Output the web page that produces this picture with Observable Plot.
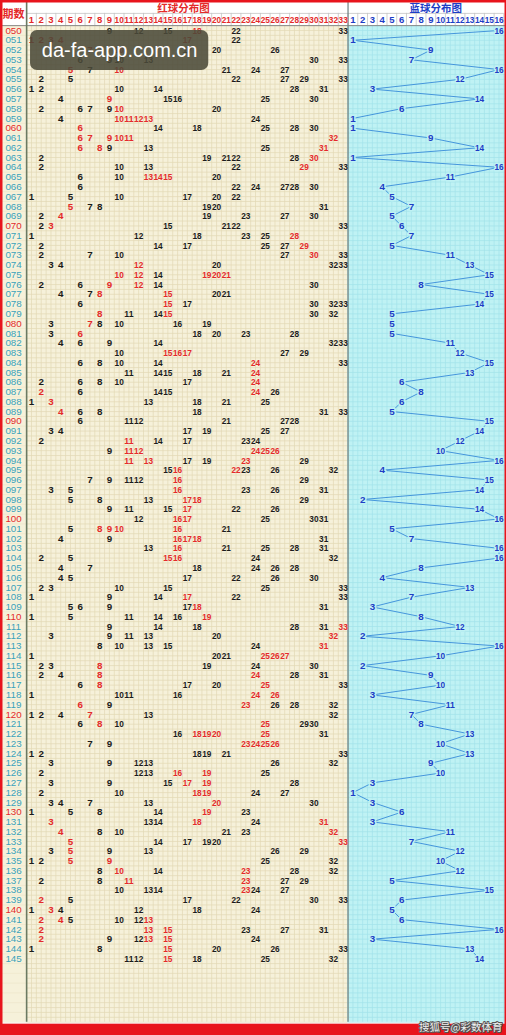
<!DOCTYPE html>
<html><head><meta charset="utf-8">
<script src="https://cdn.jsdelivr.net/npm/d3@7"></script>
<script src="https://cdn.jsdelivr.net/npm/@observablehq/plot@0.6"></script>
<style>
body{margin:0;background:#fff;overflow:hidden;}
svg text{paint-order:stroke;}
</style></head><body><div id="chart"></div>
<script>
// ---------- data ----------
const periods = ["050","051","052","053","054","055","056","057","058","059",
"060","061","062","063","064","065","066","067","068","069",
"070","071","072","073","074","075","076","077","078","079",
"080","081","082","083","084","085","086","087","088","089",
"090","091","092","093","094","095","096","097","098","099",
"100","101","102","103","104","105","106","107","108","109",
"110","111","112","113","114","115","116","117","118","119",
"120","121","122","123","124","125","126","127","128","129",
"130","131","132","133","134","135","136","137","138","139",
"140","141","142","143","144","145"];

const redNumbers = [1,2,3,4,5,6,7,8,9,10,11,12,13,14,15,16,17,18,19,20,21,22,23,24,25,26,27,28,29,30,31,32,33];
const blueNumbers = [1,2,3,4,5,6,7,8,9,10,11,12,13,14,15,16];

const redBalls = [
[9,12,15,18,22,33],[1,2,3,4,17,22],[4,7,10,17,20,26],[6,9,10,13,30,33],[5,7,10,21,24,27],
[2,5,22,27,29,33],[1,2,10,14,28,31],[4,9,15,16,25,30],[2,6,7,9,10,20],[4,10,11,12,13,24],
[6,14,18,25,28,30],[6,7,9,10,11,32],[6,8,9,13,25,31],[2,19,21,22,28,30],[2,10,13,22,29,33],
[6,10,13,14,15,20],[6,22,24,27,28,30],[1,5,10,17,20,22],[5,7,8,19,20,31],[2,4,19,23,27,30],
[2,3,15,21,22,33],[1,12,18,23,25,28],[2,14,17,25,27,29],[2,7,10,27,30,33],[3,4,12,20,32,33],
[10,12,14,19,20,21],[2,6,9,12,14,30],[4,7,8,15,20,21],[6,15,17,30,32,33],[8,11,14,15,30,32],
[3,7,8,10,16,19],[3,6,18,20,23,28],[4,6,9,14,32,33],[10,15,16,17,27,29],[6,8,10,14,24,33],
[11,14,15,18,21,24],[2,6,8,10,17,24],[2,6,14,15,24,26],[1,3,13,18,21,25],[4,6,8,18,31,33],
[6,11,12,21,27,28],[3,4,17,19,25,27],[2,11,14,17,23,24],[9,11,12,24,25,26],[11,13,17,19,23,29],
[15,16,22,23,26,32],[7,9,11,12,16,29],[3,5,16,23,26,31],[5,8,13,17,18,29],[9,11,15,17,22,26],
[12,16,17,25,30,31],[5,8,9,10,16,21],[4,9,16,17,18,31],[13,16,21,25,28,31],[2,5,15,16,24,32],
[4,7,18,24,26,28],[4,5,17,22,26,30],[2,3,10,15,25,33],[1,9,14,17,22,33],[5,6,9,17,18,31],
[1,5,11,14,16,19],[9,14,18,28,31,33],[3,9,11,13,20,32],[8,10,13,15,24,31],[1,20,21,25,26,27],
[2,3,8,19,24,30],[2,4,8,24,28,31],[6,8,17,20,25,33],[1,10,11,16,24,26],[6,9,23,26,28,32],
[1,2,4,7,13,32],[6,8,10,25,29,30],[16,18,19,20,25,31],[7,9,23,24,25,26],[1,2,18,19,21,33],
[3,9,12,13,26,32],[2,12,13,16,19,25],[3,9,15,17,19,28],[2,10,18,19,24,27],[3,4,7,13,20,30],
[1,5,8,14,19,23],[3,13,14,18,24,31],[4,8,10,21,23,32],[5,14,17,19,20,33],[3,5,9,13,26,29],
[1,2,5,9,25,32],[8,10,14,23,28,32],[2,8,11,23,27,29],[10,13,14,23,24,27],[2,5,17,22,30,33],
[1,3,4,12,18,24],[2,4,5,10,12,13],[2,13,15,23,27,31],[2,9,12,13,15,24],[1,8,15,20,26,33],
[11,12,15,18,25,32]
];

const redHot = [
[18],[1,2,3,4,17],[7,10],[],[5,10],
[],[],[9],[10],[10,11,12,13],
[6],[6,7,9,10,11,32],[6,8,31],[30],[29],
[13,14,15],[],[],[5],[4],
[3],[28],[29],[30],[12],
[10,12,19,20,21],[9,12],[8,15],[15],[8,15],
[7],[6],[],[15,16,17],[24],
[24],[24],[2,24],[3],[4],
[],[],[11],[11,12,24,25,26],[11,13,23],
[16,22],[16],[16],[17,18],[17],
[16,17],[8,9,10,16],[16,17,18],[16],[15,16],
[],[],[],[17],[18],
[19],[33],[32],[31],[25,26,27],
[8],[8,24],[8,25],[24,26],[6,23],
[7],[8,25],[18,19,20,25],[23,24,25,26],[],
[],[16,19],[17,19],[18,19],[20],
[19],[3,18,31],[4,32],[5,33],[5],
[5,9],[10,23],[11,23],[23],[2],
[3],[2,4,13],[2,13,15],[2,13,15],[15],
[15]
];

const blueBalls = [
16,1,9,7,16,12,3,14,6,1,
1,9,14,1,16,11,4,5,7,5,
6,7,5,11,13,15,8,15,14,5,
5,5,11,12,15,13,6,8,6,5,
15,14,12,10,16,4,15,14,2,14,
16,5,7,16,16,8,4,13,7,3,
8,12,2,16,10,2,9,10,3,11,
7,8,13,10,13,9,10,3,1,3,
6,3,11,7,12,10,12,5,15,6,
5,6,16,3,13,14
];

const titles = {period: "期数", red: "红球分布图", blue: "蓝球分布图"};
const watermark = {text: "da-fa-app.com.cn", colFrom: 0.9, colTo: 19.2, rowFrom: 0, rowTo: 4.1};
const credit = "搜狐号@彩数体育";

// ---------- layout helpers ----------
const X_MIN = -2.183, X_MAX = 49.77, Y_MIN = -3.07, Y_MAX = 102.86;
const emptyRows = 6;
const redEnd = redNumbers.length + 0.5;
const blueEnd = redEnd + blueNumbers.length;
const rowsEnd = periods.length + emptyRows - 0.5;
const periodX = (X_MIN + 0.5) / 2;
const titleY = -2.2;
const headNumY = (-1.75 - 0.5) / 2;

const C = {
  beige: "#f6f1da", beigeGrid: "#e2d8b4",
  cyan: "#bff2f4", cyanGrid: "#a2e2e9",
  red: "#e42a2a", black: "#1b1b1b", teal: "#3aa2ba",
  blue: "#1d3dc6", blueLine: "#4596dc", frame: "#e8141c"
};

const rows = periods.map((p, i) => ({p, i}));
const redCells = redBalls.flatMap((balls, i) => balls.map(n => ({i, col: n, hot: redHot[i].includes(n)})));
const blueCells = blueBalls.map((b, i) => ({i, col: redNumbers.length + b, label: String(b)}));

const sections = [
  {x1: X_MIN, x2: 0.5, y1: -0.5, y2: rowsEnd, fill: C.beige},
  {x1: 0.5, x2: redEnd, y1: -0.5, y2: rowsEnd, fill: C.beige},
  {x1: redEnd, x2: blueEnd + 0.5, y1: -0.5, y2: rowsEnd, fill: C.cyan}
];
const vRed = d3.range(0.5, redEnd + 0.01, 0.5);
const vBlue = d3.range(redEnd, blueEnd + 0.01, 0.5);
const hLines = d3.range(-0.5, rowsEnd + 0.01, 0.5);
const hFull = d3.range(-0.5, rowsEnd + 0.01, 1);
const headBounds = d3.range(0.5, blueEnd + 0.01, 1);

const cjk = "'Noto Sans CJK SC', sans-serif";

const svg = Plot.plot({
  width: 506, height: 1035, margin: 0,
  x: {domain: [X_MIN, X_MAX], axis: null},
  y: {domain: [Y_MIN, Y_MAX], range: [0, 1035], axis: null},
  color: {type: "identity"},
  style: {fontFamily: "'Liberation Sans', Arial, sans-serif", background: "#ffffff", overflow: "visible"},
  marks: [
    Plot.rect(sections, {x1: "x1", x2: "x2", y1: "y1", y2: "y2", fill: "fill"}),
    // grids
    Plot.ruleX(vRed, {y1: -0.5, y2: rowsEnd, stroke: C.beigeGrid, strokeWidth: 0.7}),
    Plot.ruleY(hLines, {x1: 0.5, x2: redEnd, stroke: C.beigeGrid, strokeWidth: 0.7}),
    Plot.ruleY(hFull, {x1: X_MIN, x2: 0.5, stroke: "#ece4c8", strokeWidth: 0.6}),
    Plot.ruleX(vBlue, {y1: -0.5, y2: rowsEnd, stroke: C.cyanGrid, strokeWidth: 0.7}),
    Plot.ruleY(hLines, {x1: redEnd, x2: blueEnd + 0.5, stroke: C.cyanGrid, strokeWidth: 0.7}),
    // header grid
    Plot.ruleX(headBounds, {y1: -1.75, y2: -0.5, stroke: "#c4c4c4", strokeWidth: 0.8}),
    Plot.ruleY([-1.75], {x1: 0.5, x2: blueEnd, stroke: "#c4c4c4", strokeWidth: 0.8}),
    Plot.ruleY([-0.5], {x1: X_MIN, x2: X_MAX, stroke: "#8a8a8a", strokeWidth: 1}),
    // separators
    Plot.ruleX([0.5], {y1: Y_MIN, y2: rowsEnd, stroke: "#6b7a62", strokeWidth: 1.6}),
    Plot.ruleX([redEnd], {y1: Y_MIN, y2: rowsEnd, stroke: "#6f8080", strokeWidth: 1.2}),
    // header texts
    Plot.text([titles.period], {x: periodX, y: (Y_MIN - 0.5) / 2 + 0.15, text: d => d, fill: C.red, fontSize: 11, fontWeight: "bold", fontFamily: cjk}),
    Plot.text([titles.red], {x: (0.5 + redEnd) / 2 - 0.4, y: titleY, text: d => d, fill: C.red, fontSize: 10.5, fontWeight: "bold", fontFamily: cjk}),
    Plot.text([titles.blue], {x: (redEnd + blueEnd) / 2 + 1, y: titleY, text: d => d, fill: C.blue, fontSize: 10.5, fontWeight: "bold", fontFamily: cjk}),
    Plot.text(redNumbers, {x: d => d, y: headNumY, text: d => String(d), fill: C.red, fontSize: 9.5, fontWeight: "bold"}),
    Plot.text(blueNumbers, {x: d => redNumbers.length + d, y: headNumY, text: d => String(d), fill: C.blue, fontSize: 9.5, fontWeight: "bold"}),
    // period labels
    Plot.text(rows, {x: periodX, y: "i", text: "p", fill: d => (+d.p % 10 === 0 ? C.red : C.teal), fontSize: 9.8}),
    // red balls
    Plot.text(redCells, {x: "col", y: "i", text: d => String(d.col), fill: d => (d.hot ? C.red : C.black), fontSize: 9.8, fontWeight: "bold"}),
    // blue balls
    Plot.line(blueCells, {x: "col", y: "i", stroke: C.blueLine, strokeWidth: 1}),
    Plot.text(blueCells, {x: "col", y: "i", text: "label", fill: C.blue, stroke: C.cyan, strokeWidth: 3, fontSize: 9.8, fontWeight: "bold"}),
    // watermark
    Plot.rect([watermark], {x1: "colFrom", x2: "colTo", y1: "rowFrom", y2: "rowTo", fill: "#4b4a39", fillOpacity: 0.88, rx: 7}),
    Plot.text([watermark], {x: d => (d.colFrom + d.colTo) / 2, y: d => (d.rowFrom + d.rowTo) / 2, text: "text", fill: "#ffffff", fontSize: 20}),
    // bottom band + credit
    Plot.rect([{x1: X_MIN, x2: X_MAX, y1: rowsEnd + 0.2, y2: Y_MAX}], {x1: "x1", x2: "x2", y1: "y1", y2: "y2", fill: C.frame}),
    Plot.text([credit], {frameAnchor: "bottom-right", dx: -4, dy: -5, text: d => d, fill: "#f0f0f0", stroke: "#555", strokeWidth: 2, fontSize: 10.5, fontFamily: cjk}),
    Plot.frame({stroke: C.frame, strokeWidth: 4})
  ]
});

// compress two-digit numbers to fit a cell
d3.select(svg).selectAll("text").each(function () {
  const t = this.textContent;
  if (/^\d\d$/.test(t)) {
    this.setAttribute("textLength", 9.2);
    this.setAttribute("lengthAdjust", "spacingAndGlyphs");
  }
});

document.getElementById("chart").appendChild(svg);
</script>
</body></html>
